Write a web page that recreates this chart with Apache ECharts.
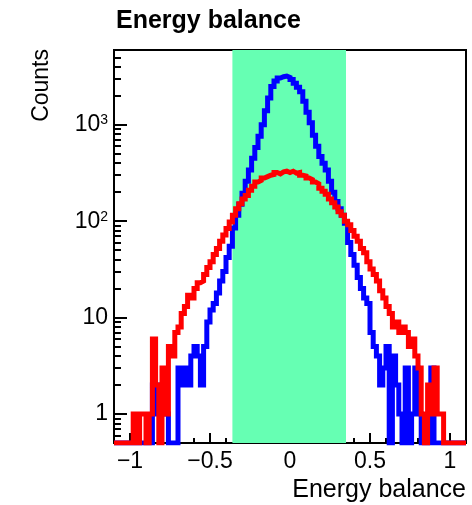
<!DOCTYPE html>
<html><head><meta charset="utf-8">
<script src="https://cdn.jsdelivr.net/npm/echarts@6/dist/echarts.min.js"></script>
<style>html,body{margin:0;padding:0;background:#fff}#c{width:472px;height:505px}</style>
</head><body><div id="c"></div>
<script>
// Histogram binning (left edges: binLow + i*binWidth)
const binLow = -1.1;
const binWidth = 0.02;

// Blue histogram counts (110 bins from -1.10 to 1.10)
const blueCounts = [
  0,0,0,0,0,0,0,0,0,0,0,0,        // -1.10 .. -0.88
  2,1,2,1,1,0,0,0,                // -0.86 .. -0.72
  3,2,3,2,4,5,4,2,5,9,            // -0.70 .. -0.52
  12,14,18,24,30,42,55,85,115,150,// -0.50 .. -0.32
  195,260,340,450,580,760,1000,1400,1900,2500, // -0.30 .. -0.12
  2850,3050,3150,3200,3100,       // -0.10 .. -0.02
  2950,2700,2450,2200,1750,1350,1050,780,600,470, // 0.00 .. 0.18
  400,340,260,200,160,135,115,95,60,45,          // 0.20 .. 0.38
  35,26,20,16,14,                 // 0.40 .. 0.48
  7,5,4,2,3,5,0,4,2,1,            // 0.50 .. 0.68
  0,3,0,1,3,1,0,0,0,3,            // 0.70 .. 0.88
  0,0,0,0,0,0,0,0,0,0             // 0.90 .. 1.08
];

// Red histogram counts (110 bins from -1.10 to 1.10)
const redCounts = [
  0,0,0,0,0,0,                    // -1.10 .. -1.00
  1,0,1,1,0,1,6,2,0,3,            // -0.98 .. -0.80
  1,5,4,7,8,11,13,17,16,20,       // -0.78 .. -0.60
  23,24,28,33,38,45,52,62,72,84,  // -0.58 .. -0.40
  98,115,135,152,170,185,210,230,255,265, // -0.38 .. -0.20
  280,290,300,305,320,310,325,330,320,   // -0.18 .. -0.02
  330,315,320,300,295,280,270,255,245,220, // 0.00 .. 0.18
  205,190,170,155,140,125,115,100,92,80,   // 0.20 .. 0.38
  70,62,52,47,38,32,28,24,19,16,  // 0.40 .. 0.58
  13,11,8,9,7,8,7,5,6,4,          // 0.60 .. 0.78
  3,1,0,2,1,3,1,1,                // 0.80 .. 0.94
  0,0,0,0,0,0,0                   // 0.96 .. 1.08
];

const signalWindow = [-0.36, 0.35];
const xRange = [-1.1, 1.1];
const yRange = [0.5, 5970];
const xMajorTicks = [-1, -0.5, 0, 0.5, 1];
const xMinorTicks = [-0.9,-0.8,-0.7,-0.6,-0.4,-0.3,-0.2,-0.1,0.1,0.2,0.3,0.4,0.6,0.7,0.8,0.9];
const yDecades = [0, 1, 2, 3];
const yMinorValues = [0.6,0.7,0.8,0.9,2,3,4,5,6,7,8,9,20,30,40,50,60,70,80,90,200,300,400,500,600,700,800,900,2000,3000,4000,5000];

const FONT = '"Liberation Sans", Arial, Helvetica, sans-serif';
const yMinLog = Math.log10(yRange[0]);
const yMaxLog = Math.log10(yRange[1]);

function toSteps(counts) {
  const pts = counts.map((c, i) => [binLow + i * binWidth, c > 0 ? Math.log10(c) : yMinLog]);
  pts.push([binLow + counts.length * binWidth, pts[pts.length - 1][1]]);
  return pts;
}

const chart = echarts.init(document.getElementById('c'), null, {renderer: 'canvas'});
const tickStyle = {color: '#000', width: 2};
chart.setOption({
  animation: false,
  backgroundColor: '#fff',
  grid: {left: 114, right: 6, top: 50, bottom: 62, show: true, borderColor: '#000', borderWidth: 2,
         backgroundColor: 'transparent', containLabel: false, outerBoundsMode: 'none'},
  xAxis: [
    {type: 'value', min: xRange[0], max: xRange[1], position: 'bottom',
     axisLine: {show: true, onZero: false, lineStyle: tickStyle},
     axisTick: {show: true, inside: true, length: 10, customValues: xMajorTicks, lineStyle: tickStyle},
     axisLabel: {customValues: xMajorTicks, margin: 7, color: '#000', fontSize: 23, fontFamily: FONT,
       formatter: v => (v < 0 ? '\u2212' : '') + Math.abs(v)},
     splitLine: {show: false}},
    {type: 'value', min: xRange[0], max: xRange[1], position: 'bottom',
     axisLine: {show: false, onZero: false},
     axisTick: {show: true, inside: true, length: 5, customValues: xMinorTicks, lineStyle: tickStyle},
     axisLabel: {show: false}, splitLine: {show: false}}
  ],
  yAxis: [
    {type: 'value', min: yMinLog, max: yMaxLog, position: 'left',
     axisLine: {show: true, onZero: false, lineStyle: tickStyle},
     axisTick: {show: true, inside: true, length: 13, customValues: yDecades, lineStyle: tickStyle},
     axisLabel: {customValues: yDecades, margin: 6, color: '#000', fontSize: 23, fontFamily: FONT,
       formatter: v => { const d = Math.round(v); if (d === 0) return '1'; if (d === 1) return '10'; return '{b|10}{s|' + d + '}'; },
       rich: {b: {fontSize: 23, fontFamily: FONT, color: '#000'},
              s: {fontSize: 14, lineHeight: 12, verticalAlign: 'top', fontFamily: FONT, color: '#000'}}},
     splitLine: {show: false}},
    {type: 'value', min: yMinLog, max: yMaxLog, position: 'left',
     axisLine: {show: false, onZero: false},
     axisTick: {show: true, inside: true, length: 7, customValues: yMinorValues.map(v => Math.log10(v)), lineStyle: tickStyle},
     axisLabel: {show: false}, splitLine: {show: false}}
  ],
  series: [
    {type: 'custom', z: 1, silent: true, clip: true,
     data: [[signalWindow[0], signalWindow[1]]],
     encode: {x: [0, 1]},
     renderItem: (params, api) => {
       const p0 = api.coord([api.value(0), yMaxLog]);
       const p1 = api.coord([api.value(1), yMinLog]);
       return {type: 'rect', shape: {x: p0[0], y: p0[1], width: p1[0] - p0[0], height: p1[1] - p0[1]},
               style: {fill: '#66ffb3'}};
     }},
    {type: 'line', z: 3, step: 'end', symbol: 'none', clip: true, data: toSteps(blueCounts),
     lineStyle: {color: '#0000ff', width: 5, cap: 'butt', join: 'miter'}},
    {type: 'line', z: 4, step: 'end', symbol: 'none', clip: true, data: toSteps(redCounts),
     lineStyle: {color: '#ff0000', width: 5, cap: 'butt', join: 'miter'}}
  ],
  graphic: [
    {type: 'text', x: 116, y: 21.5, z: 10,
     style: {text: 'Energy balance', fontSize: 25, fontWeight: 'bold', fontFamily: FONT, fill: '#000', align: 'left', verticalAlign: 'middle'}},
    {type: 'text', x: 466, y: 490, z: 10,
     style: {text: 'Energy balance', fontSize: 25, fontFamily: FONT, fill: '#000', align: 'right', verticalAlign: 'middle'}},
    {type: 'text', x: 42, y: 49, rotation: Math.PI / 2, z: 10,
     style: {text: 'Counts', fontSize: 23, fontFamily: FONT, fill: '#000', align: 'right', verticalAlign: 'middle'}}
  ]
});
</script></body></html>
